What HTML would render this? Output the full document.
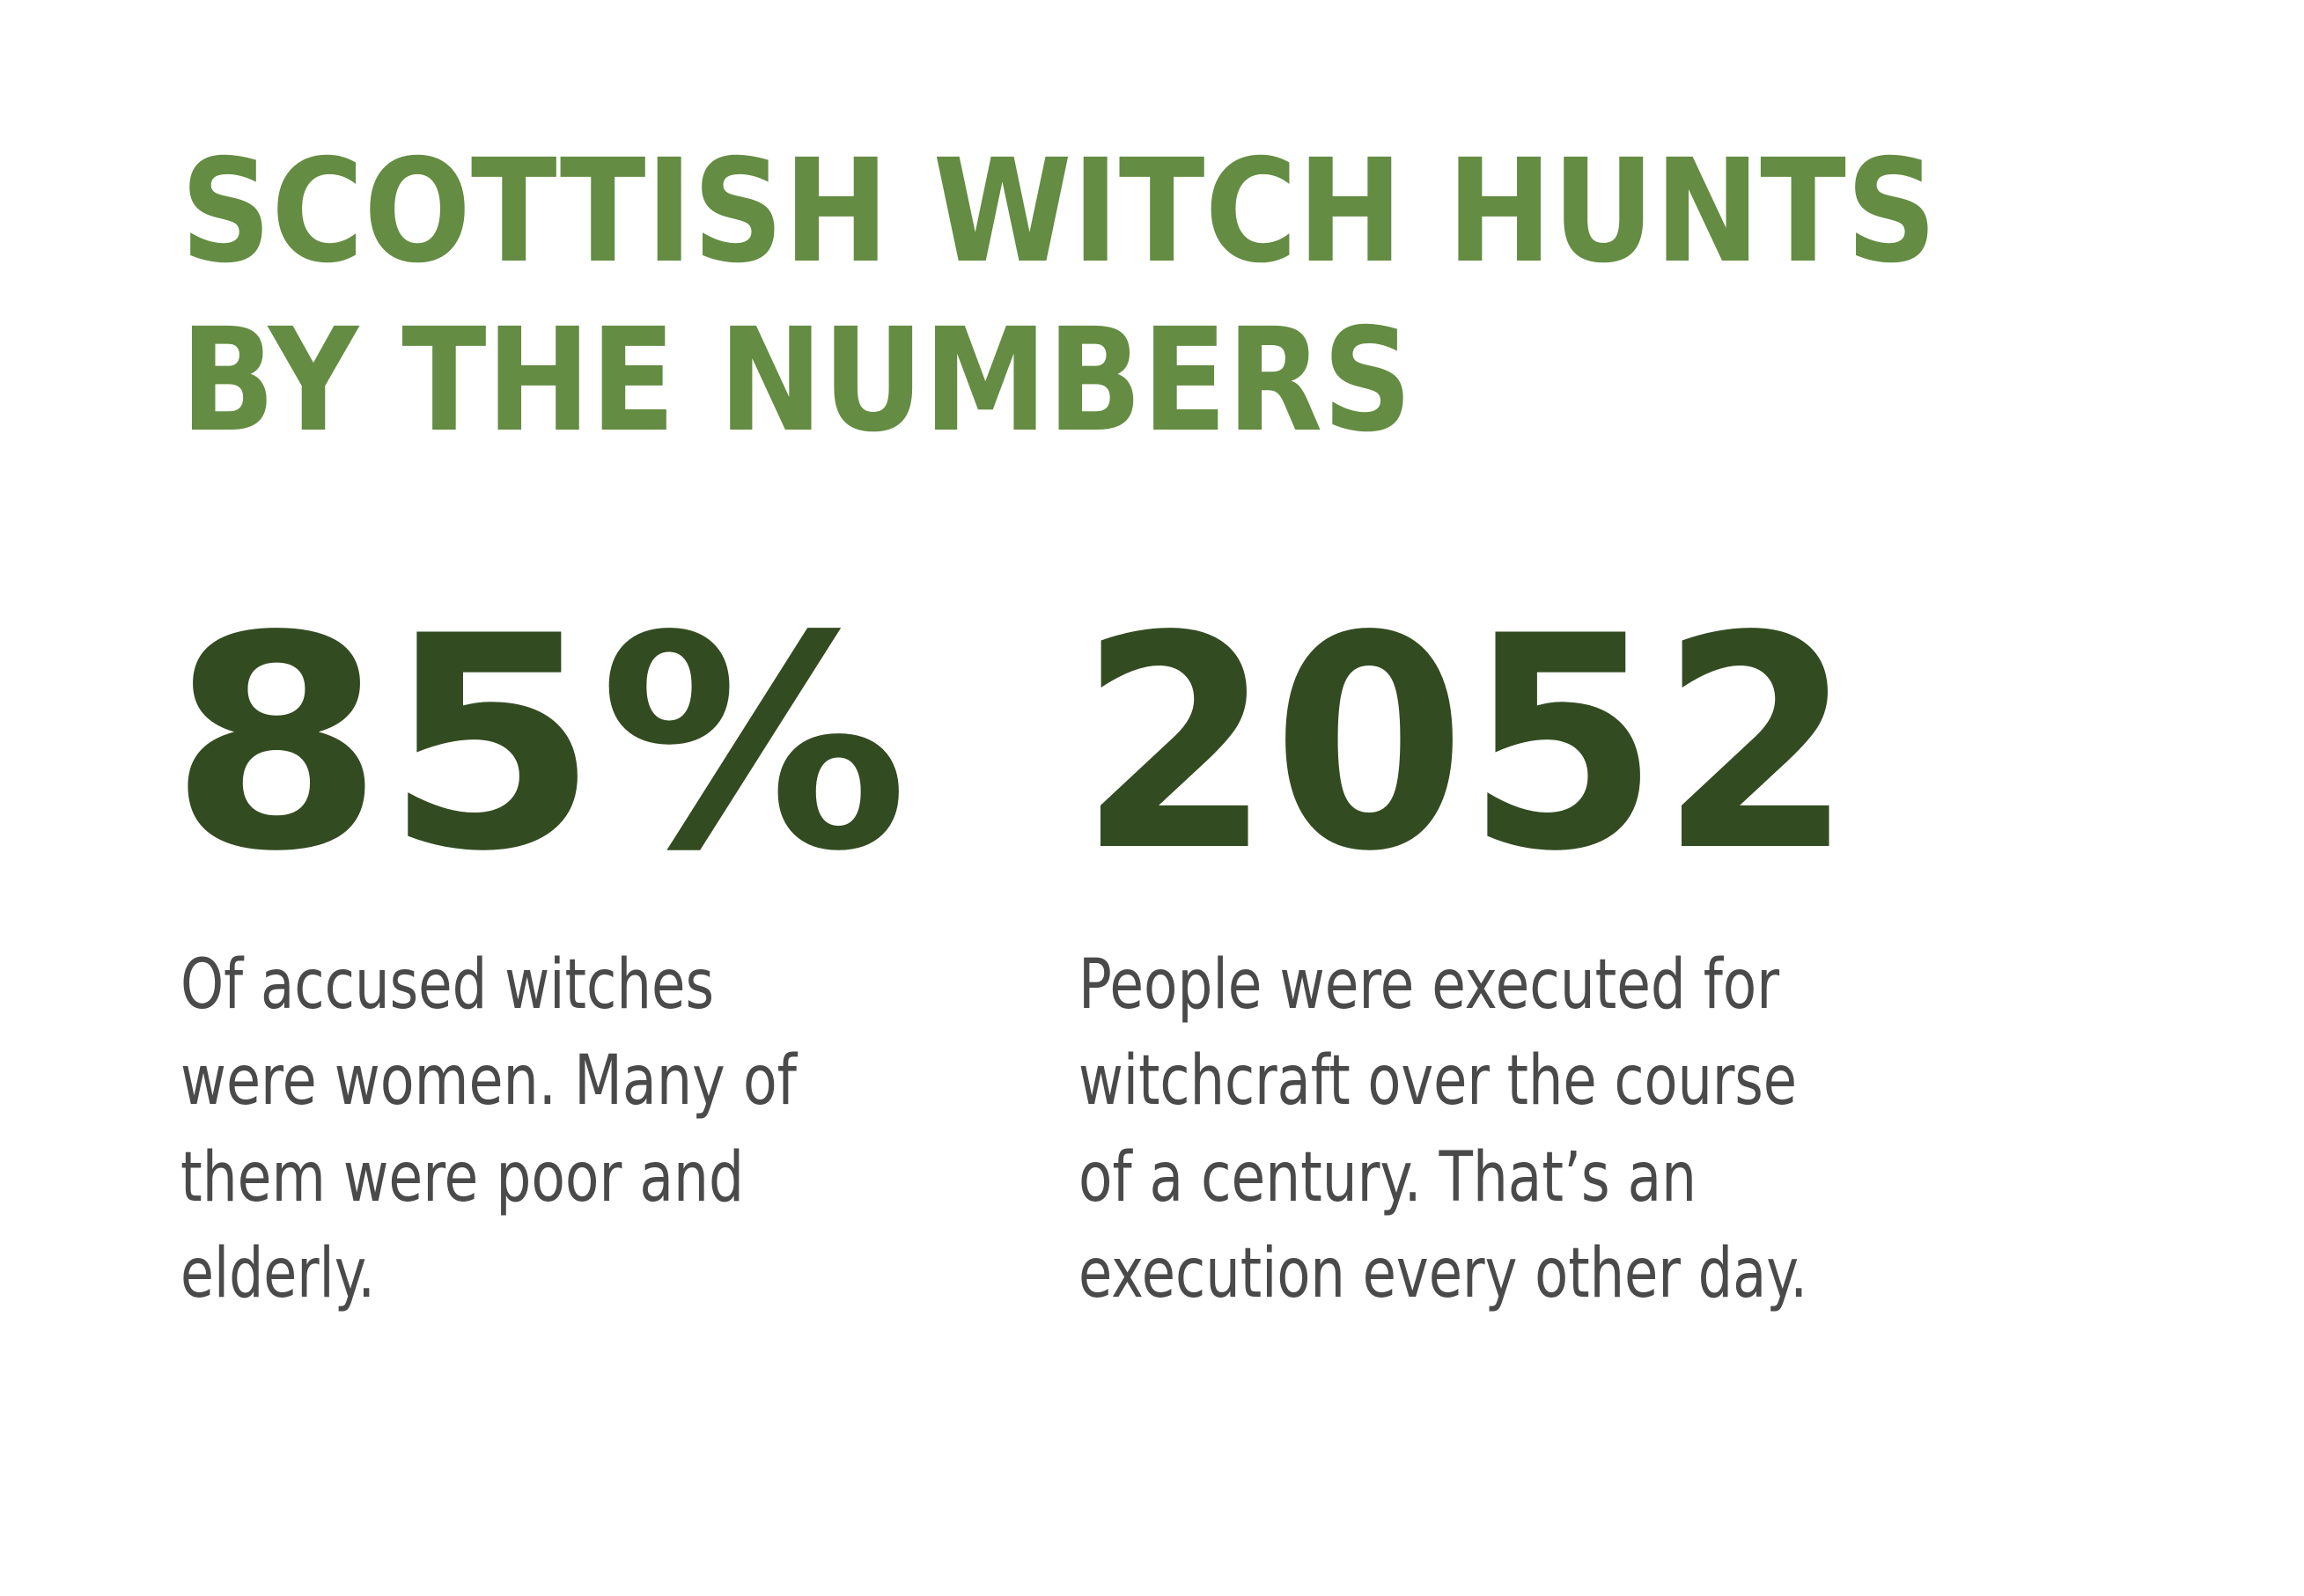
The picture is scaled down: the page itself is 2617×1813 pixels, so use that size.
<!DOCTYPE html>
<html><head><meta charset="utf-8"><style>
html,body{margin:0;padding:0;background:#fff;}
svg{display:block;}
.t{font-family:"DejaVu Sans","Liberation Sans",sans-serif;font-weight:bold;fill:#648c42;font-size:162px;}
.n{font-family:"DejaVu Sans","Liberation Sans",sans-serif;font-weight:bold;fill:#334b21;font-size:334px;}
.b{font-family:"DejaVu Sans Condensed","DejaVu Sans","Liberation Sans",sans-serif;fill:#4a4a4a;font-size:78px;}
</style></head><body>
<svg width="2617" height="1813" viewBox="0 0 2617 1813">
<rect width="2617" height="1813" fill="#fff"/>
<g>
<text class="t" x="205" y="296" textLength="1995" lengthAdjust="spacingAndGlyphs">SCOTTISH WITCH HUNTS</text>
<text class="t" x="205" y="488" textLength="1399" lengthAdjust="spacingAndGlyphs">BY THE NUMBERS</text>
</g>
<text class="n" x="192" y="961" textLength="840" lengthAdjust="spacingAndGlyphs">85%</text>
<text class="n" x="1225" y="961" textLength="880" lengthAdjust="spacingAndGlyphs">2052</text>
<g transform="translate(0,-8)">
<text class="b" x="205" y="1153" textLength="606" lengthAdjust="spacingAndGlyphs">Of accused witches</text>
<text class="b" x="205" y="1262" textLength="700" lengthAdjust="spacingAndGlyphs">were women. Many of</text>
<text class="b" x="205" y="1372" textLength="640" lengthAdjust="spacingAndGlyphs">them were poor and</text>
<text class="b" x="205" y="1481" textLength="221" lengthAdjust="spacingAndGlyphs">elderly.</text>
</g>
<g transform="translate(-12,-8)">
<text class="b" x="1237" y="1153" textLength="796" lengthAdjust="spacingAndGlyphs">People were executed for</text>
<text class="b" x="1237" y="1262" textLength="816" lengthAdjust="spacingAndGlyphs">witchcraft over the course</text>
<text class="b" x="1237" y="1372" textLength="702" lengthAdjust="spacingAndGlyphs">of a century. That’s an</text>
<text class="b" x="1237" y="1481" textLength="828" lengthAdjust="spacingAndGlyphs">execution every other day.</text>
</g>
</svg>
</body></html>
